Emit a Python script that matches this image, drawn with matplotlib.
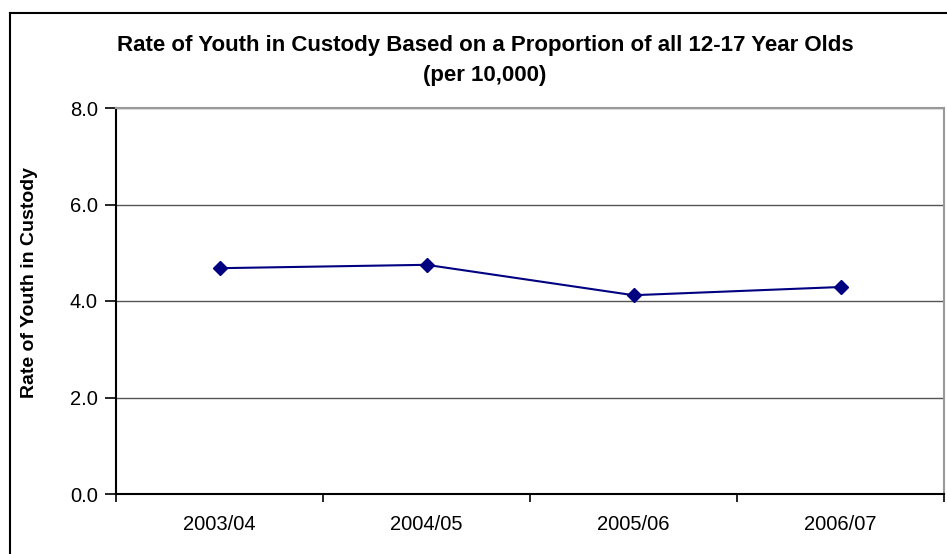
import matplotlib
matplotlib.use("Agg")
import matplotlib.pyplot as plt
from matplotlib.lines import Line2D

plt.rcParams['font.family'] = ['Liberation Sans', 'DejaVu Sans']

years = ["2003/04", "2004/05", "2005/06", "2006/07"]
rates = [4.68, 4.75, 4.12, 4.29]
y_ticks = [0.0, 2.0, 4.0, 6.0, 8.0]

W, H = 947, 554
fig = plt.figure(figsize=(W / 100, H / 100), dpi=100)

# chart area border (left and top edges visible)
fig.add_artist(Line2D([10 / W, 10 / W], [0, 1 - 13 / H], color='black', lw=1.5))
fig.add_artist(Line2D([10 / W, 1], [1 - 13 / H, 1 - 13 / H], color='black', lw=1.5))

left, right, top, bottom = 116, 944, 108, 494
ax = fig.add_axes([left / W, 1 - bottom / H, (right - left) / W, (bottom - top) / H])

x = list(range(len(years)))
ax.plot(x, rates, color='#000080', lw=1.5, marker='D', markersize=7,
        markerfacecolor='#000080', markeredgecolor='#000080', zorder=3)

ax.set_xlim(-0.5, len(years) - 0.5)
ax.set_ylim(0, 8)
ax.set_yticks(y_ticks)
ax.set_yticklabels([f"{v:.1f}" for v in y_ticks])
ax.yaxis.grid(True, color='#555555', lw=1.0)
ax.set_axisbelow(True)

# category labels centred, ticks on category boundaries
ax.set_xticks(x)
ax.set_xticklabels(years)
ax.tick_params(axis='x', which='major', length=0, pad=15, labelsize=14.5)
ax.set_xticks([i - 0.5 for i in range(len(years) + 1)], minor=True)
ax.tick_params(axis='x', which='minor', length=6, width=1.2, direction='out', color='black')
ax.tick_params(axis='y', length=8, width=1.2, direction='out', labelsize=14.5, pad=5)

for side in ('left', 'bottom'):
    ax.spines[side].set_color('black')
    ax.spines[side].set_linewidth(1.5)
for side in ('right', 'top'):
    ax.spines[side].set_color('#999999')
    ax.spines[side].set_linewidth(1.5)

fig.text(29 / W, 1 - 283 / H, "Rate of Youth in Custody", rotation=90,
         ha='center', va='center', fontsize=14, fontweight='bold')

fig.text(485 / W, 1 - 46 / H,
         "Rate of Youth in Custody Based on a Proportion of all 12-17 Year Olds",
         ha='center', va='center', fontsize=16, fontweight='bold')
fig.text(485 / W, 1 - 75 / H, "(per 10,000)",
         ha='center', va='center', fontsize=16, fontweight='bold')

fig.savefig("out.png", dpi=100)
